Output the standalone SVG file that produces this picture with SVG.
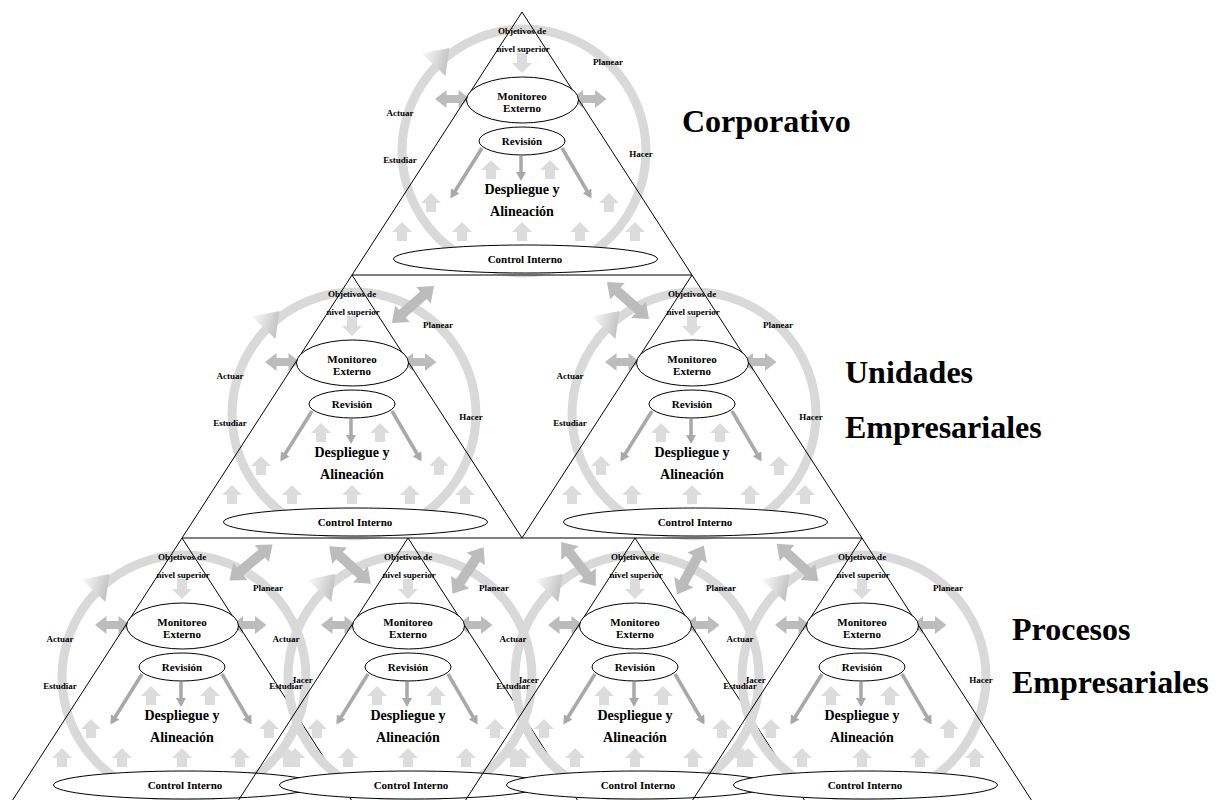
<svg xmlns="http://www.w3.org/2000/svg" xmlns:xlink="http://www.w3.org/1999/xlink" width="1221" height="800" viewBox="0 0 1221 800">
  <style>
    text { font-family: "Liberation Serif", "Times New Roman", serif; font-weight: bold; fill: #000; }
    .s { font-size: 9px; text-anchor: middle; }
    .m { font-size: 11px; text-anchor: middle; }
    .l { font-size: 14px; text-anchor: middle; }
    .title { font-size: 32px; }
    .outline { fill: none; stroke: #000; stroke-width: 1; }
    .oval { fill: #fff; stroke: #000; stroke-width: 1; }
    .ring { fill: none; stroke: #d9d9d9; stroke-width: 9; }
    .light { fill: #dcdcdc; }
    .mid { fill: #bcbcbc; }
    .thin { stroke: #a9a9a9; stroke-width: 3.5; fill: none; marker-end: url(#thinHead); }
  </style>
  <defs>
    <linearGradient id="headGrad" x1="0" y1="0" x2="1" y2="0.3">
      <stop offset="0" stop-color="#ffffff"/>
      <stop offset="1" stop-color="#c4c4c4"/>
    </linearGradient>
    <marker id="thinHead" markerUnits="userSpaceOnUse" markerWidth="9" markerHeight="10" refX="6" refY="5" orient="auto">
      <path d="M0,0 L9,5 L0,10 Z" fill="#a9a9a9"/>
    </marker>
    <!-- block arrows -->
    <path id="upArrow" d="M0,0 L10,10 L5,10 L5,19 L-5,19 L-5,10 L-10,10 Z"/>
    <path id="downArrow" d="M-5,0 L5,0 L5,10 L10,10 L0,20 L-10,10 L-5,10 Z"/>
    <path id="hArrow" d="M-17.5,0 L-6,-9 L-6,-4 L6,-4 L6,-9 L17.5,0 L6,9 L6,4 L-6,4 L-6,9 Z"/>
    <path id="bigArrow" d="M-28,0 L-14,-11 L-14,-5 L14,-5 L14,-11 L28,0 L14,11 L14,5 L-14,5 L-14,11 Z"/>
    <!-- one management cycle: apex of the triangle at (0,0) -->
    <g id="unit">
      <circle class="ring" cx="2" cy="139" r="122"/>
      <polygon points="-100.4,41.4 -76.6,64.1 -72.6,36.1" fill="url(#headGrad)"/>
      <g class="light">
        <use xlink:href="#downArrow" x="0" y="41"/>
        <use xlink:href="#upArrow" x="-31" y="148"/>
        <use xlink:href="#upArrow" x="28" y="148"/>
        <use xlink:href="#upArrow" x="-91" y="181"/>
        <use xlink:href="#upArrow" x="87" y="181"/>
        <use xlink:href="#upArrow" x="-120" y="210"/>
        <use xlink:href="#upArrow" x="-60" y="210"/>
        <use xlink:href="#upArrow" x="0" y="210"/>
        <use xlink:href="#upArrow" x="58" y="210"/>
        <use xlink:href="#upArrow" x="113" y="210"/>
      </g>
      <g class="mid">
        <use xlink:href="#hArrow" x="-69.5" y="87"/>
        <use xlink:href="#hArrow" x="67" y="87"/>
      </g>
      <line class="thin" x1="-1" y1="144" x2="-1" y2="166"/>
      <line class="thin" x1="-40" y1="136" x2="-70" y2="184"/>
      <line class="thin" x1="40" y1="136" x2="68" y2="184"/>
      <polygon class="outline" points="0,0 -170,263 170,263"/>
      <ellipse class="oval" cx="0.5" cy="88" rx="56" ry="23"/>
      <ellipse class="oval" cx="0" cy="129" rx="43" ry="14"/>
      <ellipse class="oval" cx="3.5" cy="247" rx="132" ry="14"/>
    </g>
  </defs>

  <!-- corporate level -->
  <g id="corporativo" transform="translate(522,12)">
    <use xlink:href="#unit"/>
    <text class="s" x="0" y="22">Objetivos de</text>
    <text class="s" x="1" y="40">nivel superior</text>
    <text class="s" x="86" y="52.5">Planear</text>
    <text class="s" x="-122" y="104">Actuar</text>
    <text class="s" x="-122" y="151">Estudiar</text>
    <text class="s" x="119" y="144.5">Hacer</text>
    <text class="m" x="0" y="88">Monitoreo</text>
    <text class="m" x="0" y="99.5">Externo</text>
    <text class="m" x="0" y="133">Revisión</text>
    <text class="l" x="0" y="182">Despliegue y</text>
    <text class="l" x="0" y="204">Alineación</text>
    <text class="m" x="3" y="251">Control Interno</text>
  </g>

  <!-- business units -->
  <g id="unidad-1" transform="translate(352,275)">
    <use xlink:href="#unit"/>
    <text class="s" x="0" y="22">Objetivos de</text>
    <text class="s" x="1" y="40">nivel superior</text>
    <text class="s" x="86" y="52.5">Planear</text>
    <text class="s" x="-122" y="104">Actuar</text>
    <text class="s" x="-122" y="151">Estudiar</text>
    <text class="s" x="119" y="144.5">Hacer</text>
    <text class="m" x="0" y="88">Monitoreo</text>
    <text class="m" x="0" y="99.5">Externo</text>
    <text class="m" x="0" y="133">Revisión</text>
    <text class="l" x="0" y="182">Despliegue y</text>
    <text class="l" x="0" y="204">Alineación</text>
    <text class="m" x="3" y="251">Control Interno</text>
  </g>
  <g id="unidad-2" transform="translate(692,275)">
    <use xlink:href="#unit"/>
    <text class="s" x="0" y="22">Objetivos de</text>
    <text class="s" x="1" y="40">nivel superior</text>
    <text class="s" x="86" y="52.5">Planear</text>
    <text class="s" x="-122" y="104">Actuar</text>
    <text class="s" x="-122" y="151">Estudiar</text>
    <text class="s" x="119" y="144.5">Hacer</text>
    <text class="m" x="0" y="88">Monitoreo</text>
    <text class="m" x="0" y="99.5">Externo</text>
    <text class="m" x="0" y="133">Revisión</text>
    <text class="l" x="0" y="182">Despliegue y</text>
    <text class="l" x="0" y="204">Alineación</text>
    <text class="m" x="3" y="251">Control Interno</text>
  </g>

  <!-- business processes -->
  <g id="proceso-1" transform="translate(182,538)">
    <use xlink:href="#unit"/>
    <text class="s" x="0" y="22">Objetivos de</text>
    <text class="s" x="1" y="40">nivel superior</text>
    <text class="s" x="86" y="52.5">Planear</text>
    <text class="s" x="-122" y="104">Actuar</text>
    <text class="s" x="-122" y="151">Estudiar</text>
    <text class="s" x="119" y="144.5">Hacer</text>
    <text class="m" x="0" y="88">Monitoreo</text>
    <text class="m" x="0" y="99.5">Externo</text>
    <text class="m" x="0" y="133">Revisión</text>
    <text class="l" x="0" y="182">Despliegue y</text>
    <text class="l" x="0" y="204">Alineación</text>
    <text class="m" x="3" y="251">Control Interno</text>
  </g>
  <g id="proceso-2" transform="translate(408,538)">
    <use xlink:href="#unit"/>
    <text class="s" x="0" y="22">Objetivos de</text>
    <text class="s" x="1" y="40">nivel superior</text>
    <text class="s" x="86" y="52.5">Planear</text>
    <text class="s" x="-122" y="104">Actuar</text>
    <text class="s" x="-122" y="151">Estudiar</text>
    <text class="s" x="119" y="144.5">Hacer</text>
    <text class="m" x="0" y="88">Monitoreo</text>
    <text class="m" x="0" y="99.5">Externo</text>
    <text class="m" x="0" y="133">Revisión</text>
    <text class="l" x="0" y="182">Despliegue y</text>
    <text class="l" x="0" y="204">Alineación</text>
    <text class="m" x="3" y="251">Control Interno</text>
  </g>
  <g id="proceso-3" transform="translate(635,538)">
    <use xlink:href="#unit"/>
    <text class="s" x="0" y="22">Objetivos de</text>
    <text class="s" x="1" y="40">nivel superior</text>
    <text class="s" x="86" y="52.5">Planear</text>
    <text class="s" x="-122" y="104">Actuar</text>
    <text class="s" x="-122" y="151">Estudiar</text>
    <text class="s" x="119" y="144.5">Hacer</text>
    <text class="m" x="0" y="88">Monitoreo</text>
    <text class="m" x="0" y="99.5">Externo</text>
    <text class="m" x="0" y="133">Revisión</text>
    <text class="l" x="0" y="182">Despliegue y</text>
    <text class="l" x="0" y="204">Alineación</text>
    <text class="m" x="3" y="251">Control Interno</text>
  </g>
  <g id="proceso-4" transform="translate(862,538)">
    <use xlink:href="#unit"/>
    <text class="s" x="0" y="22">Objetivos de</text>
    <text class="s" x="1" y="40">nivel superior</text>
    <text class="s" x="86" y="52.5">Planear</text>
    <text class="s" x="-122" y="104">Actuar</text>
    <text class="s" x="-122" y="151">Estudiar</text>
    <text class="s" x="119" y="144.5">Hacer</text>
    <text class="m" x="0" y="88">Monitoreo</text>
    <text class="m" x="0" y="99.5">Externo</text>
    <text class="m" x="0" y="133">Revisión</text>
    <text class="l" x="0" y="182">Despliegue y</text>
    <text class="l" x="0" y="204">Alineación</text>
    <text class="m" x="3" y="251">Control Interno</text>
  </g>

  <!-- two-way links between levels -->
  <g id="connectors" class="mid">
    <use xlink:href="#bigArrow" transform="translate(413,304.5) rotate(-41.2)"/>
    <use xlink:href="#bigArrow" transform="translate(628,300.5) rotate(41.2)"/>
    <use xlink:href="#bigArrow" transform="translate(251,562.5) rotate(-39.8)"/>
    <use xlink:href="#bigArrow" transform="translate(350,565) rotate(42)"/>
    <use xlink:href="#bigArrow" transform="translate(468,570.5) rotate(-56.3)"/>
    <use xlink:href="#bigArrow" transform="translate(578.5,564) rotate(51.8)"/>
    <use xlink:href="#bigArrow" transform="translate(690.5,570) rotate(-61.5)"/>
    <use xlink:href="#bigArrow" transform="translate(797.5,562.5) rotate(41.9)"/>
  </g>

  <!-- level names -->
  <g id="levels">
    <text class="title" x="682" y="132">Corporativo</text>
    <text class="title" x="845" y="383">Unidades</text>
    <text class="title" x="845" y="438">Empresariales</text>
    <text class="title" x="1012" y="640">Procesos</text>
    <text class="title" x="1012" y="693">Empresariales</text>
  </g>
</svg>
